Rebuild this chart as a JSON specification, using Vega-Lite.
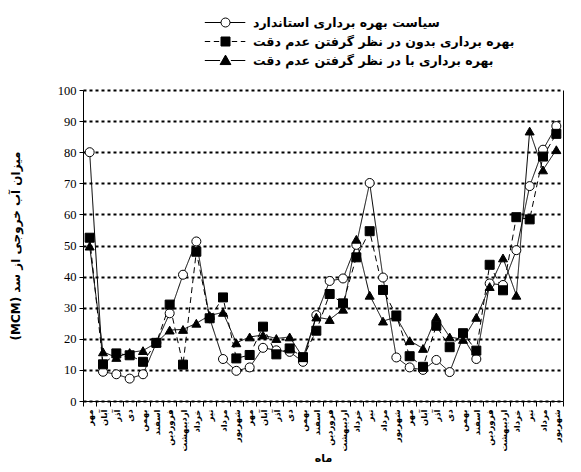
{
  "$schema": "https://vega.github.io/schema/vega-lite/v6.json",
  "width": 480,
  "height": 311,
  "autosize": {"type": "none"},
  "padding": {"left": 83, "top": 90, "right": 18, "bottom": 71},
  "background": "white",
  "config": {
    "view": {"stroke": null},
    "axis": {"domainColor": "black", "tickColor": "black", "labelColor": "black", "titleColor": "black"},
    "legend": {"labelFont": "DejaVu Sans", "labelFontWeight": "bold", "labelFontSize": 12.5, "labelColor": "black", "labelLimit": 0}
  },
  "data": {
    "values": [
      {"k": "01|مهر", "a": 80, "b": 52.5, "c": 49.8},
      {"k": "02|آبان", "a": 9.4, "b": 11.8, "c": 15.8},
      {"k": "03|آذر", "a": 8.6, "b": 15.3, "c": 14},
      {"k": "04|دی", "a": 7.2, "b": 14.7, "c": 15.6},
      {"k": "05|بهمن", "a": 8.6, "b": 12.6, "c": 16.2},
      {"k": "06|اسفند", "a": 18.7, "b": 18.7, "c": 18.7},
      {"k": "07|فروردین", "a": 28.2, "b": 31, "c": 22.8},
      {"k": "08|اردیبهشت", "a": 40.6, "b": 11.7, "c": 23},
      {"k": "09|خرداد", "a": 51.3, "b": 48, "c": 25},
      {"k": "10|تیر", "a": 26.6, "b": 26.6, "c": 27.5},
      {"k": "11|مرداد", "a": 13.5, "b": 33.3, "c": 28.5},
      {"k": "12|شهریور", "a": 9.7, "b": 13.7, "c": 18.7},
      {"k": "13|مهر", "a": 10.8, "b": 14.8, "c": 20.6},
      {"k": "14|آبان", "a": 17.1, "b": 23.9, "c": 21.2},
      {"k": "15|آذر", "a": 16.3, "b": 15, "c": 20.1},
      {"k": "16|دی", "a": 15.8, "b": 16.9, "c": 20.6},
      {"k": "17|بهمن", "a": 12.6, "b": 14.1, "c": 14},
      {"k": "18|اسفند", "a": 27.6, "b": 22.6, "c": 27},
      {"k": "19|فروردین", "a": 38.6, "b": 34.4, "c": 26.2},
      {"k": "20|اردیبهشت", "a": 39.4, "b": 31.4, "c": 29.5},
      {"k": "21|خرداد", "a": 50.2, "b": 46.2, "c": 52},
      {"k": "22|تیر", "a": 70.1, "b": 54.6, "c": 34},
      {"k": "23|مرداد", "a": 39.7, "b": 35.7, "c": 25.7},
      {"k": "24|شهریور", "a": 14, "b": 27.5, "c": 27},
      {"k": "25|مهر", "a": 10.8, "b": 14.4, "c": 19.4},
      {"k": "26|آبان", "a": 10, "b": 11, "c": 16.9},
      {"k": "27|آذر", "a": 13.2, "b": 24.2, "c": 27},
      {"k": "28|دی", "a": 9.3, "b": 17.3, "c": 20.6},
      {"k": "29|بهمن", "a": 20.5, "b": 21.8, "c": 19.8},
      {"k": "30|اسفند", "a": 13.5, "b": 16.2, "c": 26.9},
      {"k": "31|فروردین", "a": 37.8, "b": 43.8, "c": 36.8},
      {"k": "32|اردیبهشت", "a": 37.3, "b": 35.6, "c": 46},
      {"k": "33|خرداد", "a": 48.5, "b": 59.1, "c": 34},
      {"k": "34|تیر", "a": 69.1, "b": 58.4, "c": 86.8},
      {"k": "35|مرداد", "a": 80.8, "b": 78.6, "c": 74.3},
      {"k": "36|شهریور", "a": 88.4, "b": 85.9, "c": 80.8}
    ]
  },
  "transform": [{"fold": ["a", "b", "c"], "as": ["s", "v"]}],
  "layer": [
    {
      "mark": {"type": "line", "color": "black", "strokeWidth": 1},
      "encoding": {
        "x": {
          "field": "k", "type": "ordinal",
          "axis": {
            "title": "ماه", "titleFont": "DejaVu Sans", "titleFontWeight": "bold", "titleFontSize": 11, "titleY": 57, "titleBaseline": "middle",
            "labelExpr": "split(datum.value, '|')[1]", "labelAngle": -90, "labelFont": "DejaVu Sans", "labelFontWeight": "bold", "labelFontSize": 8.5, "labelPadding": 3,
            "tickBand": "extent", "tickSize": 5, "grid": false
          }
        },
        "y": {
          "field": "v", "type": "quantitative",
          "scale": {"domain": [0, 100]},
          "axis": {
            "values": [0, 10, 20, 30, 40, 50, 60, 70, 80, 90, 100],
            "title": "(MCM) میزان آب خروجی از سد", "titleFont": "DejaVu Sans", "titleFontWeight": "bold", "titleFontSize": 12, "titlePadding": 35,
            "labelFont": "Liberation Serif", "labelFontSize": 12.5, "labelPadding": 3, "tickSize": 4,
            "grid": true, "gridColor": "black", "gridDash": [3, 3], "gridWidth": 2
          }
        },
        "detail": {"field": "s"},
        "strokeDash": {"field": "s", "scale": {"domain": ["a", "b", "c"], "range": [[1, 0], [6, 4], [1, 0]]}, "legend": null}
      }
    },
    {
      "mark": {"type": "point", "filled": true, "stroke": "black", "strokeWidth": 1, "size": 81, "opacity": 1},
      "encoding": {
        "x": {"field": "k", "type": "ordinal"},
        "y": {
          "field": "v", "type": "quantitative",
          "axis": {"orient": "right", "labels": false, "ticks": false, "grid": false, "domain": true, "title": null}
        },
        "shape": {"field": "s", "scale": {"domain": ["a", "b", "c"], "range": ["circle", "square", "triangle-up"]}, "legend": null},
        "fill": {"field": "s", "scale": {"domain": ["a", "b", "c"], "range": ["white", "black", "black"]}, "legend": null}
      }
    },
    {
      "transform": [{"filter": "false"}],
      "mark": {"type": "point", "filled": true, "strokeWidth": 1, "opacity": 1},
      "encoding": {
        "shape": {
          "field": "s",
          "scale": {
            "domain": ["a", "b", "c"],
            "range": [
              "M-2.3,0H-0.5M0.5,0H2.2M-0.5,0A0.5,0.5,0,1,1,0.5,0A0.5,0.5,0,1,1,-0.5,0Z",
              "M-2.3,0H-1.7M-1.3,0H-0.7M0.7,0H1.3M1.7,0H2.2M-0.5,-0.5H0.5V0.5H-0.5Z",
              "M-2.3,0H-0.6M0.6,0H2.2M0,-0.6L-0.6,0.45L0.6,0.45Z"
            ]
          },
          "legend": {
            "orient": "none", "legendX": 133, "legendY": -77, "direction": "vertical",
            "title": null, "symbolSize": 324, "symbolStrokeWidth": 1,
            "labelOffset": 18, "rowPadding": 3,
            "labelExpr": "datum.value == 'a' ? 'سیاست بهره برداری استاندارد' : datum.value == 'b' ? 'بهره برداری بدون در نظر گرفتن عدم دقت' : 'بهره برداری با در نظر گرفتن عدم دقت'"
          }
        },
        "fill": {
          "field": "s",
          "scale": {"domain": ["a", "b", "c"], "range": ["white", "black", "black"]},
          "legend": {
            "orient": "none", "legendX": 133, "legendY": -77, "direction": "vertical",
            "title": null, "symbolSize": 324, "symbolStrokeWidth": 1,
            "labelOffset": 18, "rowPadding": 3,
            "labelExpr": "datum.value == 'a' ? 'سیاست بهره برداری استاندارد' : datum.value == 'b' ? 'بهره برداری بدون در نظر گرفتن عدم دقت' : 'بهره برداری با در نظر گرفتن عدم دقت'"
          }
        },
        "stroke": {
          "field": "s",
          "scale": {"domain": ["a", "b", "c"], "range": ["black", "black", "black"]},
          "legend": {
            "orient": "none", "legendX": 133, "legendY": -77, "direction": "vertical",
            "title": null, "symbolSize": 324, "symbolStrokeWidth": 1,
            "labelOffset": 18, "rowPadding": 3,
            "labelExpr": "datum.value == 'a' ? 'سیاست بهره برداری استاندارد' : datum.value == 'b' ? 'بهره برداری بدون در نظر گرفتن عدم دقت' : 'بهره برداری با در نظر گرفتن عدم دقت'"
          }
        }
      }
    }
  ],
  "resolve": {"scale": {"shape": "independent", "fill": "independent", "stroke": "independent"}, "axis": {"y": "independent"}}
}
